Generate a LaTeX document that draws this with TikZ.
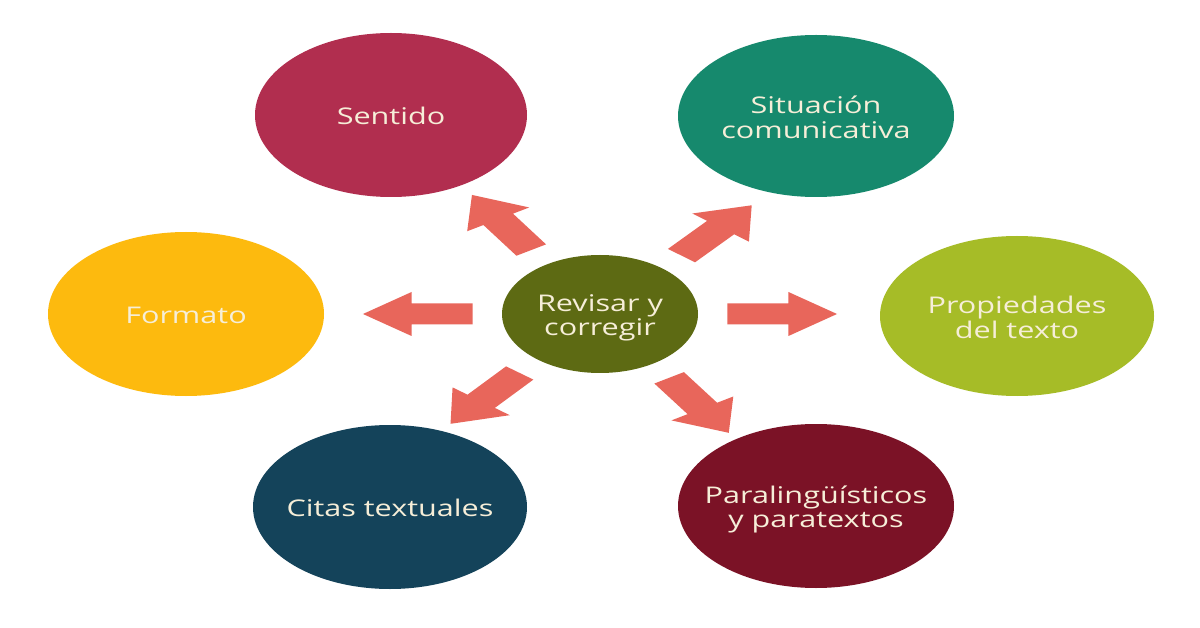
\documentclass[tikz,border=0pt]{standalone}
\usepackage{fontspec}
\setmainfont[FakeStretch=1.33]{Open Sans}
\usetikzlibrary{shapes.geometric}
\definecolor{cSen}{HTML}{B12E4F}
\definecolor{cSit}{HTML}{16896D}
\definecolor{cFor}{HTML}{FDBA0E}
\definecolor{cPro}{HTML}{A6BC27}
\definecolor{cCit}{HTML}{14435A}
\definecolor{cPar}{HTML}{7B1226}
\definecolor{cCen}{HTML}{5D6A13}
\definecolor{cArr}{HTML}{E8665B}
\definecolor{cTxt}{HTML}{F6EED8}
\tikzset{
  bubble/.style={ellipse, inner sep=0pt, text=cTxt,
    font=\fontsize{23}{24}\selectfont},
  blockarrow/.style={fill=cArr, draw=none}
}
\newcommand{\btext}[1]{\makebox[0pt]{\raisebox{-11pt}[0pt][0pt]{\smash{\begin{tabular}{@{}c@{}}#1\end{tabular}}}}}
\newcommand{\myblockarrow}[1]{%
  \begin{scope}[shift={(c)}, xscale=1.675, rotate=#1]
    \path[blockarrow] (76,-10.5) -- (112.5,-10.5) -- (112.5,-22) -- (141.5,0)
      -- (112.5,22) -- (112.5,10.5) -- (76,10.5) -- cycle;
  \end{scope}}
\begin{document}
\begin{tikzpicture}[x=1pt, y=-1pt]
  \useasboundingbox[fill=white] (0,0) rectangle (1200,628);
  \node[bubble, fill=cSen, minimum width=272pt, minimum height=164pt] (sen) at (391,115) {\btext{Sentido}};
  \node[bubble, fill=cSit, minimum width=276pt, minimum height=162pt] (sit) at (816,116) {\btext{Situación\\comunicativa}};
  \node[bubble, fill=cFor, minimum width=276pt, minimum height=164pt] (for) at (186,314) {\btext{Formato}};
  \node[bubble, fill=cPro, minimum width=274pt, minimum height=160pt] (pro) at (1017,316) {\btext{Propiedades\\del texto}};
  \node[bubble, fill=cCit, minimum width=274pt, minimum height=164pt] (cit) at (390,507) {\btext{Citas textuales}};
  \node[bubble, fill=cPar, minimum width=276pt, minimum height=164pt] (par) at (816,506) {\btext{Paralingüísticos\\y paratextos}};
  \node[bubble, fill=cCen, minimum width=196pt, minimum height=118pt] (c) at (600,314) {\btext{Revisar y\\corregir}};
  \myblockarrow{0}
  \myblockarrow{50.2}
  \myblockarrow{122.7}
  \myblockarrow{180}
  \myblockarrow{230.9}
  \myblockarrow{302.9}
\end{tikzpicture}
\end{document}
